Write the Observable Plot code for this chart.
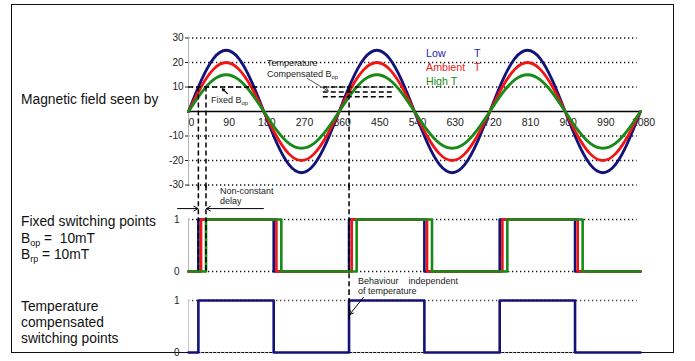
<!DOCTYPE html>
<html>
<head>
<meta charset="utf-8">
<script src="https://cdn.jsdelivr.net/npm/d3@7"></script>
<script src="https://cdn.jsdelivr.net/npm/@observablehq/plot@0.6"></script>
<style>
html, body { margin: 0; padding: 0; background: #fff; }
#wrap { position: relative; width: 695px; height: 361px; overflow: hidden; background: #fff; }
#wrap svg { position: absolute; left: 0; }
#frame { position: absolute; left: 11px; top: 4px; width: 663px; height: 349px; box-sizing: border-box; border: 1.5px solid #111; }
</style>
</head>
<body>
<div id="wrap"><div id="frame"></div></div>
<script>
// ---------------- data ----------------
const degreeTicks = [0, 90, 180, 270, 360, 450, 540, 630, 720, 810, 900, 990, 1080];
const fieldTicks = [-30, -20, -10, 10, 20, 30];
const stateTicks = [0, 1];

// one period of the field (mT), read every 30 degrees; the picture repeats it 3 times
const periodPhase = [0, 30, 60, 90, 120, 150, 180, 210, 240, 270, 300, 330];
const periodStarts = [0, 360, 720];
const lowT     = [0, 12.5, 21.7, 25, 21.7, 12.5, 0, -12.5, -21.7, -25, -21.7, -12.5];
const ambientT = [0, 10, 17.3, 20, 17.3, 10, 0, -10, -17.3, -20, -17.3, -10];
const highT    = [0, 7.5, 13, 15, 13, 7.5, 0, -7.5, -13, -15, -13, -7.5];

const fixedBop = 10;
const compensatedBop = [10, 8, 6];           // low, ambient, high T

// switching angles (degrees), fixed switching points
const lowOn  = [23.6, 383.6, 743.6],  lowOff  = [203.6, 563.6, 923.6];
const ambOn  = [30, 390, 750],        ambOff  = [210, 570, 930];
const highOn = [41.8, 401.8, 761.8],  highOff = [221.8, 581.8, 941.8];
// temperature-compensated switching points
const compOn = [23.6, 383.6, 743.6],  compOff = [203.6, 563.6, 923.6];

// ---------------- helpers ----------------
const FONT = '"Liberation Sans", Arial, sans-serif';
const BLUE = "#12127a", RED = "#f01414", GREEN = "#178a17";

function wave(values) {
  const out = [];
  for (const p of periodStarts) periodPhase.forEach((ph, i) => out.push({deg: p + ph, b: values[i]}));
  out.push({deg: 1080, b: values[0]});
  return out;
}
function steps(on, off) {
  const out = [{deg: 0, s: 0}];
  on.forEach((a, i) => {
    out.push({deg: a, s: 0}, {deg: a, s: 1}, {deg: off[i], s: 1}, {deg: off[i], s: 0});
  });
  out.push({deg: 1080, s: 0});
  return out;
}

const W = 695, X0 = 188, X1 = 640;
const dash = {stroke: "#000", strokeWidth: 1.5, strokeDasharray: "5,3"};
const dots = {stroke: "#111", strokeWidth: 1.3, strokeDasharray: "1.3,2.7"};
const baseStyle = {background: "transparent", overflow: "visible", fontFamily: FONT, fontSize: "10px", color: "#222"};
const wrap = document.getElementById("wrap");

// ---------------- top panel: magnetic field ----------------
const fieldPlot = Plot.plot({
  width: W, height: 190,
  marginLeft: X0, marginRight: W - X1, marginTop: 37.5, marginBottom: 5.5,
  style: baseStyle,
  x: {domain: [0, 1080], axis: null},
  y: {domain: [-30, 30], ticks: fieldTicks, tickSize: 3, tickPadding: 2, label: null, tickFormat: d => String(d)},
  marks: [
    Plot.ruleY(fieldTicks, {x1: 0, x2: 1072, ...dots}),
    Plot.ruleX([0], {y1: -30, y2: 30, stroke: "#b4b4b4"}),
    Plot.text(degreeTicks, {x: d => d, y: 0, dy: 11, dx: 3, text: d => String(d), fontSize: 10.5, fill: "#222"}),
    Plot.ruleY([0], {x1: 0, x2: 1080, stroke: "#000", strokeWidth: 1.3}),
    Plot.line(wave(lowT), {x: "deg", y: "b", stroke: BLUE, strokeWidth: 2.8, curve: "natural"}),
    Plot.line(wave(ambientT), {x: "deg", y: "b", stroke: RED, strokeWidth: 2.8, curve: "natural"}),
    Plot.line(wave(highT), {x: "deg", y: "b", stroke: GREEN, strokeWidth: 2.8, curve: "natural"}),
    Plot.ruleY([fixedBop], {x1: 0, x2: 165, ...dash}),
    Plot.ruleY(compensatedBop, {x1: 322, x2: 490, ...dash}),
    Plot.ruleX([lowOn[0], highOn[0]], {y1: fixedBop, y2: -32.5, ...dash}),
    Plot.ruleX([compOn[1]], {y1: compensatedBop[0], y2: -32.5, ...dash}),
    Plot.arrow([0], {x1: 93, y1: 7.3, x2: 81, y2: 9.3, stroke: "#000", strokeWidth: 1.2, headLength: 5}),
    Plot.arrow([0], {x1: 284, y1: 13.5, x2: 334, y2: 8.3, stroke: "#555", strokeWidth: 1, headLength: 6})
  ]
});
fieldPlot.style.top = "0px";
wrap.appendChild(fieldPlot);

// ---------------- middle panel: fixed switching points ----------------
const fixedPlot = Plot.plot({
  width: W, height: 105,
  marginLeft: X0, marginRight: W - X1, marginTop: 34, marginBottom: 19,
  style: baseStyle,
  x: {domain: [0, 1080], axis: null},
  y: {domain: [0, 1], ticks: stateTicks, tickSize: 0, tickPadding: 9, label: null, tickFormat: d => String(d)},
  marks: [
    Plot.ruleY(stateTicks, {x1: 0, x2: 1072, ...dots}),
    Plot.ruleX([0], {y1: 0, y2: 1, stroke: "#b4b4b4"}),
    Plot.line(steps(lowOn, lowOff), {x: "deg", y: "s", stroke: BLUE, strokeWidth: 2.6}),
    Plot.line(steps(ambOn, ambOff), {x: "deg", y: "s", stroke: RED, strokeWidth: 2.6}),
    Plot.line(steps(highOn, highOff), {x: "deg", y: "s", stroke: GREEN, strokeWidth: 2.6}),
    Plot.ruleX([lowOn[0], highOn[0]], {y1: 1.65, y2: 0, ...dash}),
    Plot.ruleX([compOn[1]], {y1: 1.65, y2: -0.37, ...dash}),
    Plot.arrow([0], {x1: -26, y1: 1.21, x2: lowOn[0] - 1, y2: 1.21, stroke: "#000", strokeWidth: 1, headLength: 7}),
    Plot.arrow([0], {x1: 179, y1: 1.21, x2: highOn[0] + 1, y2: 1.21, stroke: "#000", strokeWidth: 1, headLength: 7})
  ]
});
fixedPlot.style.top = "185px";
wrap.appendChild(fixedPlot);

// ---------------- bottom panel: temperature compensated ----------------
const compPlot = Plot.plot({
  width: W, height: 71,
  marginLeft: X0, marginRight: W - X1, marginTop: 10, marginBottom: 9,
  style: baseStyle,
  x: {domain: [0, 1080], axis: null},
  y: {domain: [0, 1], ticks: stateTicks, tickSize: 0, tickPadding: 9, label: null, tickFormat: d => String(d)},
  marks: [
    Plot.ruleY([1], {x1: 0, x2: 1072, ...dots, stroke: "#444"}),
    Plot.ruleY([0], {x1: 0, x2: 1072, ...dots, stroke: "#aaa"}),
    Plot.ruleX([0], {y1: 0, y2: 1, stroke: "#c8c8c8"}),
    Plot.line(steps(compOn, compOff), {x: "deg", y: "s", stroke: BLUE, strokeWidth: 2.6}),
    Plot.ruleX([compOn[1]], {y1: 1.19, y2: 0.62, ...dash}),
    Plot.arrow([0], {x1: 418, y1: 1.06, x2: 385, y2: 0.73, stroke: "#000", strokeWidth: 1, headLength: 6})
  ]
});
compPlot.style.top = "290px";
wrap.appendChild(compPlot);

// ---------------- text overlay ----------------
const ov = d3.create("svg").attr("width", W).attr("height", 361)
  .style("top", "0px").style("font-family", FONT);
function addText(x, y, parts, size, fill) {
  const t = ov.append("text").attr("x", x).attr("y", y).attr("font-size", size)
    .attr("fill", fill || "#111").style("white-space", "pre");
  let shifted = false;
  for (const p of parts) {
    const sub = typeof p !== "string";
    const ts = t.append("tspan").text(sub ? p.sub : p);
    if (sub) { ts.attr("font-size", size * 0.65).attr("dy", size * 0.25); shifted = true; }
    else if (shifted) { ts.attr("dy", -size * 0.25); shifted = false; }
  }
}
const LS = 13.8;
addText(21, 104, ["Magnetic field seen by"], LS);
addText(21, 226, ["Fixed switching points"], LS);
addText(21, 243, ["B", {sub: "op"}, " =  10mT"], LS);
addText(21, 259, ["B", {sub: "rp"}, " = 10mT"], LS);
addText(21, 311, ["Temperature"], LS);
addText(21, 327, ["compensated"], LS);
addText(21, 343, ["switching points"], LS);

const LG = 10.7;
addText(426, 57, ["Low"], LG, "#2424b8");
addText(474, 57, ["T"], LG, "#2424b8");
addText(426, 71, ["Ambient"], LG, "#e81c1c");
addText(474, 71, ["T"], LG, "#e81c1c");
addText(426, 84.5, ["High T"], LG, "#228a22");

const AN = 9, AC = "#222";
addText(267, 66, ["Temperature"], AN, AC);
addText(267, 77, ["Compensated B", {sub: "op"}], AN, AC);
addText(211, 103, ["Fixed B", {sub: "op"}], AN, AC);
addText(220, 194, ["Non-constant"], AN, AC);
addText(220, 203.5, ["delay"], AN, AC);
addText(358, 284, ["Behaviour    independent"], AN, AC);
addText(358, 294, ["of temperature"], AN, AC);
wrap.appendChild(ov.node());
</script>
</body>
</html>
